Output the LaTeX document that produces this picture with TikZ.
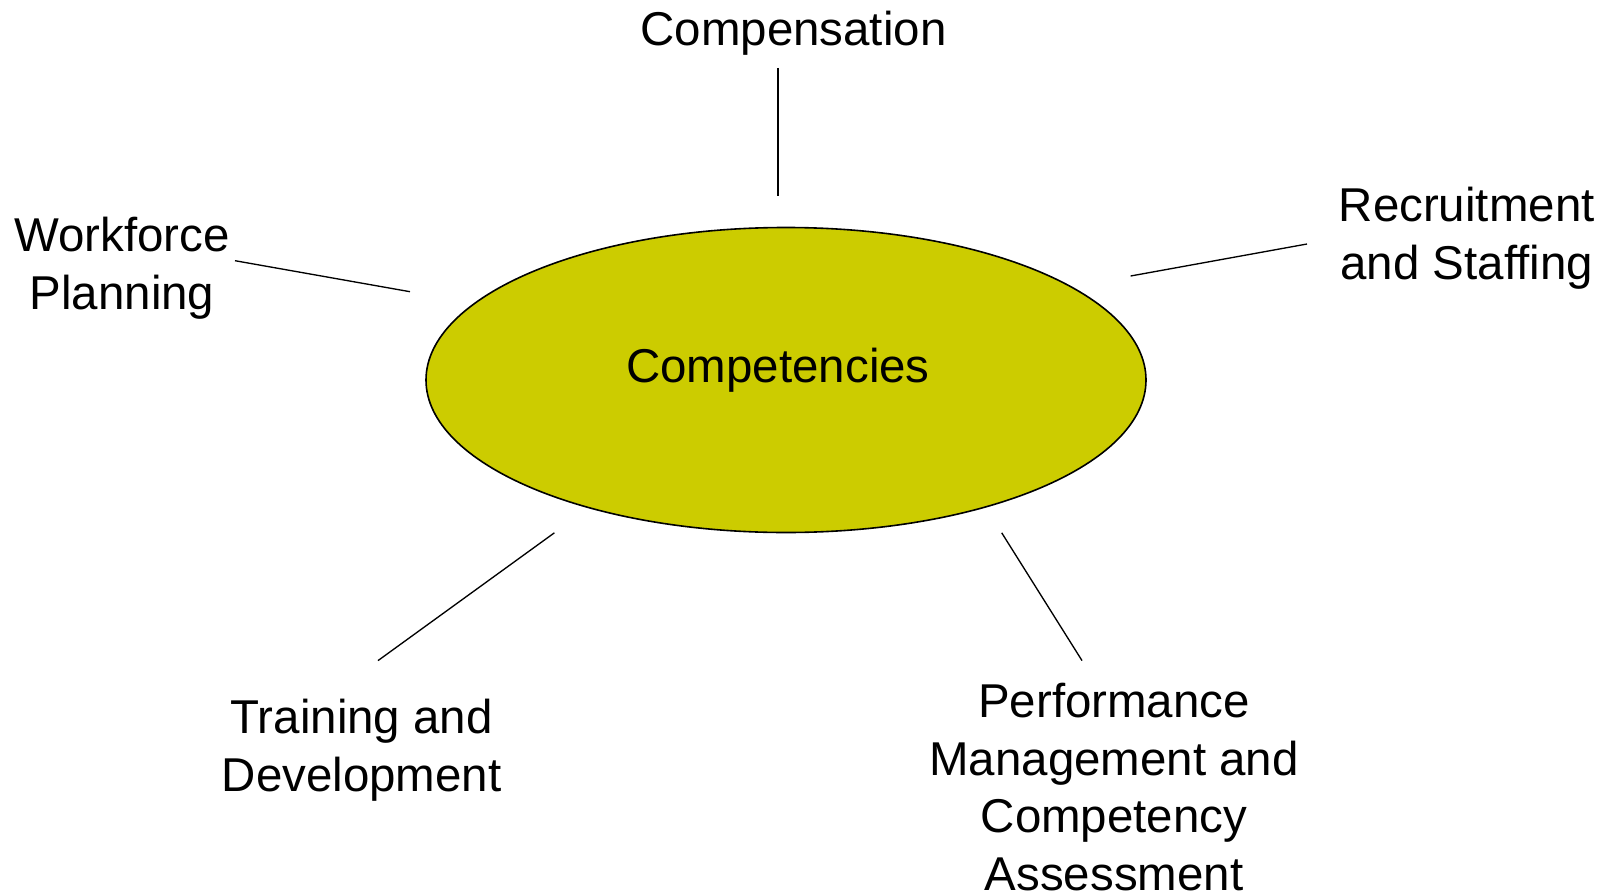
\documentclass[tikz,border=0pt]{standalone}
\usepackage{fontspec}
\setmainfont{Liberation Sans}
\usetikzlibrary{shapes.geometric}
\definecolor{coreolive}{RGB}{204,204,0}
\tikzset{
  corebox/.style={
    ellipse, draw, line width=1.2pt, fill=coreolive,
    minimum width=540pt, minimum height=228.75pt, inner sep=0pt
  },
  areatext/.style={
    inner sep=0pt, align=center,
    font=\fontsize{35.6}{43.2}\selectfont
  },
  spoke/.style={
    line width=1pt
  }
}

\begin{document}
\begin{tikzpicture}[x=0.75pt, y=-0.75pt]
    \useasboundingbox (0,0) rectangle (1616,892);

    \node[corebox] (core) at (786,380) {};
    \node[areatext, anchor=base] (coretxt) at (778,382) {Competencies};

    \node[areatext, anchor=base] (comp) at (793.5,46) {Compensation};
    \node[areatext, anchor=west] (recruit) at (1338.5,238) {Recruitment\\and Staffing};
    \node[areatext] (workforce) at (122,268.5) {Workforce\\Planning};
    \node[areatext] (training) at (361.7,750) {Training and\\Development};
    \node[areatext] (perform) at (1114,787) {Performance\\Management and\\Competency\\Assessment};

    % free ends of the spokes
    \coordinate (comp-a) at (778,68);
    \coordinate (comp-b) at (778,196);
    \coordinate (recruit-a) at (1307,244);
    \coordinate (recruit-b) at (1130.6,276);
    \coordinate (workforce-a) at (235,260.7);
    \coordinate (workforce-b) at (410,291.7);
    \coordinate (training-a) at (378,660.6);
    \coordinate (training-b) at (554.4,532.8);
    \coordinate (perform-a) at (1082,660.6);
    \coordinate (perform-b) at (1001.7,532.8);

    \draw[spoke] (comp-a) -- (comp-b);
    \draw[spoke] (recruit-a) -- (recruit-b);
    \draw[spoke] (workforce-a) -- (workforce-b);
    \draw[spoke] (training-a) -- (training-b);
    \draw[spoke] (perform-a) -- (perform-b);
\end{tikzpicture}
\end{document}
